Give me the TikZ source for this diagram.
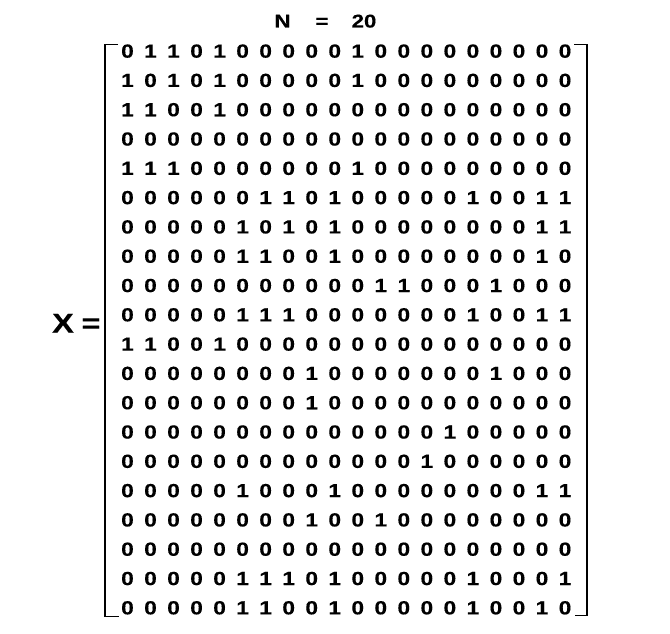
\documentclass[tikz,border=0pt]{standalone}
\usepackage{fontspec}
\newfontfamily\digfont{Liberation Sans}[FakeStretch=1.2, BoldFeatures={FakeBold=0.3}]
\usetikzlibrary{matrix}
\begin{document}
\begin{tikzpicture}[x=1pt,y=-1pt,
  cell/.style={inner sep=0pt, minimum width=23.03pt, minimum height=29.3pt,
    text height=13.6pt, text depth=0pt, font=\digfont\bfseries\fontsize{19}{21}\selectfont},
  lbl/.style={inner sep=0pt, anchor=base, font=\digfont\bfseries\fontsize{18.5}{20}\selectfont},
  biglbl/.style={inner sep=0pt, anchor=base, font=\digfont\bfseries\fontsize{27}{30}\selectfont},
  brk/.style={line width=1.7pt, line cap=butt, line join=miter}]
\useasboundingbox (0,0) rectangle (670,634);
% title
\node[lbl] (Nlbl) at (282.5,27.5) {N};
\node[lbl] (Neq) at (322,27.5) {=};
\node[lbl] (Nval) at (364,27.5) {20};
% X =
\node[biglbl] (Xlbl) at (63,332.5) {X};
\node[biglbl] (Xeq) at (91,332.5) {=};
% matrix
\matrix (X) at (346.25,329.2) [matrix of nodes, inner sep=0pt, column sep=0pt, row sep=0pt, nodes={cell}] {
0 & 1 & 1 & 0 & 1 & 0 & 0 & 0 & 0 & 0 & 1 & 0 & 0 & 0 & 0 & 0 & 0 & 0 & 0 & 0 \\
1 & 0 & 1 & 0 & 1 & 0 & 0 & 0 & 0 & 0 & 1 & 0 & 0 & 0 & 0 & 0 & 0 & 0 & 0 & 0 \\
1 & 1 & 0 & 0 & 1 & 0 & 0 & 0 & 0 & 0 & 0 & 0 & 0 & 0 & 0 & 0 & 0 & 0 & 0 & 0 \\
0 & 0 & 0 & 0 & 0 & 0 & 0 & 0 & 0 & 0 & 0 & 0 & 0 & 0 & 0 & 0 & 0 & 0 & 0 & 0 \\
1 & 1 & 1 & 0 & 0 & 0 & 0 & 0 & 0 & 0 & 1 & 0 & 0 & 0 & 0 & 0 & 0 & 0 & 0 & 0 \\
0 & 0 & 0 & 0 & 0 & 0 & 1 & 1 & 0 & 1 & 0 & 0 & 0 & 0 & 0 & 1 & 0 & 0 & 1 & 1 \\
0 & 0 & 0 & 0 & 0 & 1 & 0 & 1 & 0 & 1 & 0 & 0 & 0 & 0 & 0 & 0 & 0 & 0 & 1 & 1 \\
0 & 0 & 0 & 0 & 0 & 1 & 1 & 0 & 0 & 1 & 0 & 0 & 0 & 0 & 0 & 0 & 0 & 0 & 1 & 0 \\
0 & 0 & 0 & 0 & 0 & 0 & 0 & 0 & 0 & 0 & 0 & 1 & 1 & 0 & 0 & 0 & 1 & 0 & 0 & 0 \\
0 & 0 & 0 & 0 & 0 & 1 & 1 & 1 & 0 & 0 & 0 & 0 & 0 & 0 & 0 & 1 & 0 & 0 & 1 & 1 \\
1 & 1 & 0 & 0 & 1 & 0 & 0 & 0 & 0 & 0 & 0 & 0 & 0 & 0 & 0 & 0 & 0 & 0 & 0 & 0 \\
0 & 0 & 0 & 0 & 0 & 0 & 0 & 0 & 1 & 0 & 0 & 0 & 0 & 0 & 0 & 0 & 1 & 0 & 0 & 0 \\
0 & 0 & 0 & 0 & 0 & 0 & 0 & 0 & 1 & 0 & 0 & 0 & 0 & 0 & 0 & 0 & 0 & 0 & 0 & 0 \\
0 & 0 & 0 & 0 & 0 & 0 & 0 & 0 & 0 & 0 & 0 & 0 & 0 & 0 & 1 & 0 & 0 & 0 & 0 & 0 \\
0 & 0 & 0 & 0 & 0 & 0 & 0 & 0 & 0 & 0 & 0 & 0 & 0 & 1 & 0 & 0 & 0 & 0 & 0 & 0 \\
0 & 0 & 0 & 0 & 0 & 1 & 0 & 0 & 0 & 1 & 0 & 0 & 0 & 0 & 0 & 0 & 0 & 0 & 1 & 1 \\
0 & 0 & 0 & 0 & 0 & 0 & 0 & 0 & 1 & 0 & 0 & 1 & 0 & 0 & 0 & 0 & 0 & 0 & 0 & 0 \\
0 & 0 & 0 & 0 & 0 & 0 & 0 & 0 & 0 & 0 & 0 & 0 & 0 & 0 & 0 & 0 & 0 & 0 & 0 & 0 \\
0 & 0 & 0 & 0 & 0 & 1 & 1 & 1 & 0 & 1 & 0 & 0 & 0 & 0 & 0 & 1 & 0 & 0 & 0 & 1 \\
0 & 0 & 0 & 0 & 0 & 1 & 1 & 0 & 0 & 1 & 0 & 0 & 0 & 0 & 0 & 1 & 0 & 0 & 1 & 0 \\
};
% brackets
\coordinate (LT) at (118,44.5);
\coordinate (LTc) at (105,44.5);
\coordinate (LBc) at (105,616.5);
\coordinate (LB) at (119,616.5);
\coordinate (RT) at (574,44.5);
\coordinate (RTc) at (587,44.5);
\coordinate (RBc) at (587,615.5);
\coordinate (RB) at (575,615.5);
\draw[brk] (LT) -- (LTc) -- (LBc) -- (LB);
\draw[brk] (RT) -- (RTc) -- (RBc) -- (RB);
\end{tikzpicture}
\end{document}
